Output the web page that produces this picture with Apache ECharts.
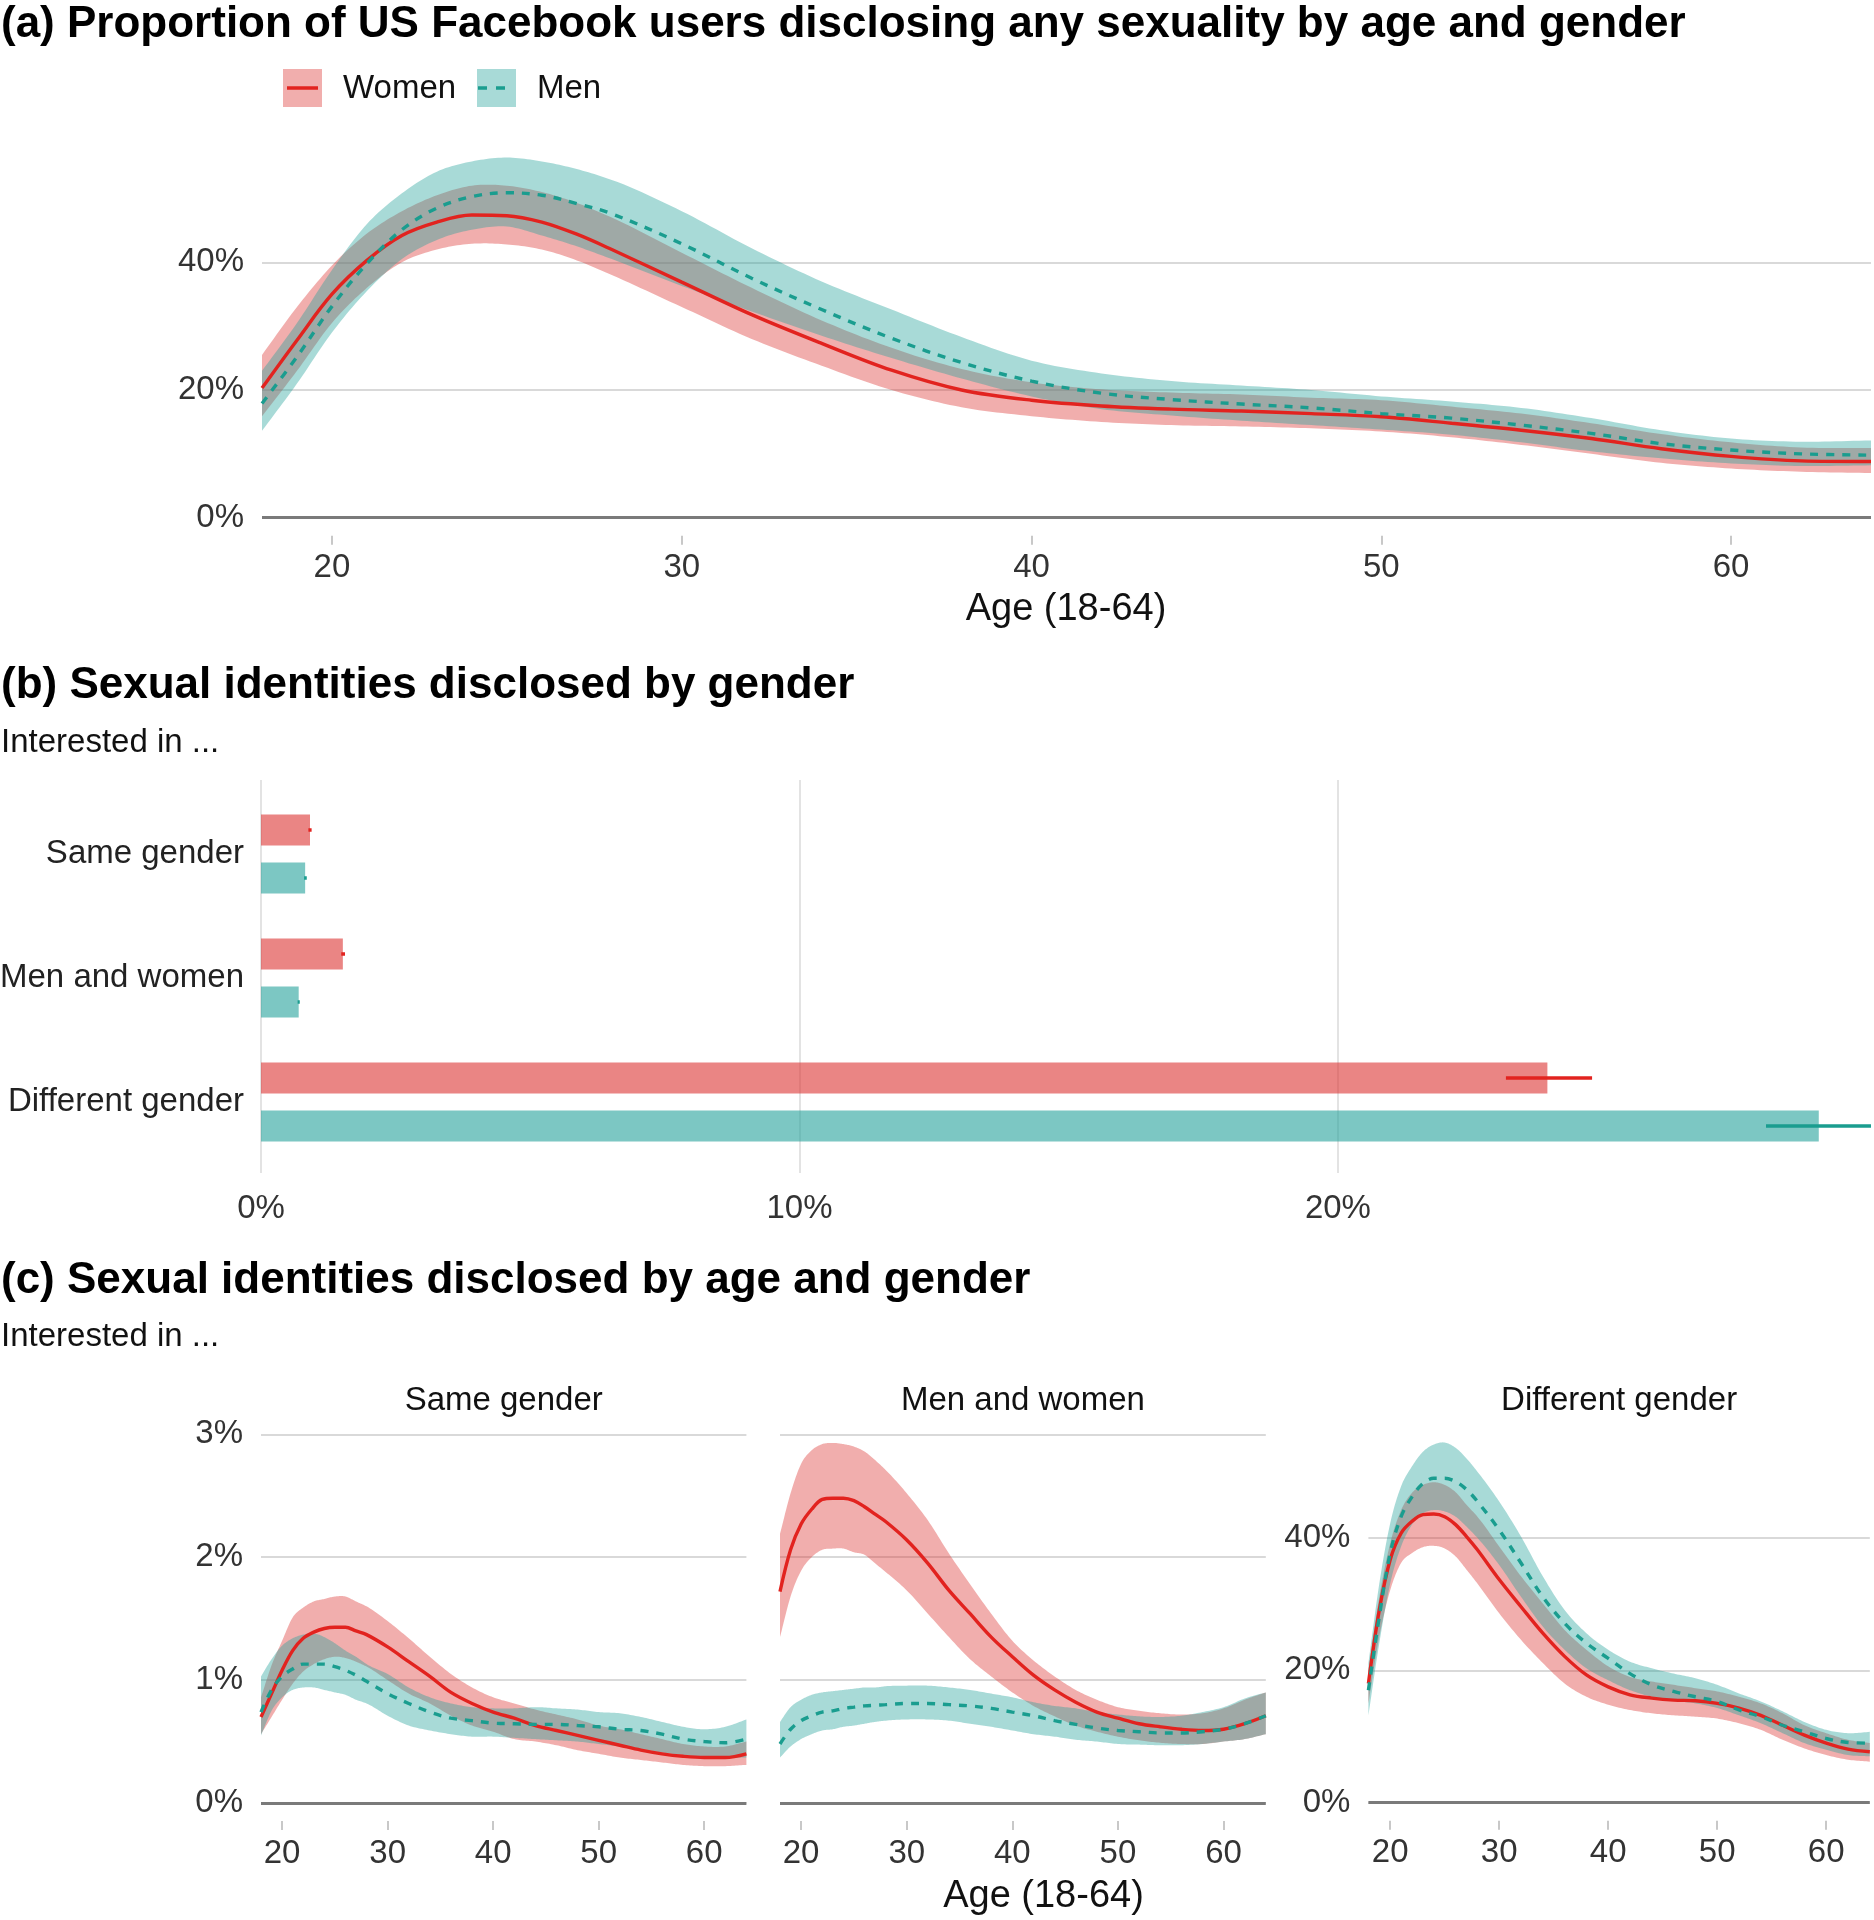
<!DOCTYPE html>
<html><head><meta charset="utf-8">
<script src="https://cdn.jsdelivr.net/npm/echarts@6/dist/echarts.min.js"></script>
<style>html,body{margin:0;padding:0;background:#fff}#c{width:1874px;height:1920px}</style>
</head><body><div id="c"></div>
<script>
// ---------- DATA ----------
const ages = [18,19,20,21,22,23,24,25,26,27,28,30,32,34,36,38,40,42,44,46,48,50,52,54,56,58,60,62,64];
const ageTicks = [20,30,40,50,60];

// (a) any sexuality disclosed, % by age
const aWomen   = [20.3,27.8,35.0,40.3,44.2,46.3,47.4,47.3,46.3,44.4,42.0,36.9,31.8,27.3,23.1,20.0,18.4,17.5,17.0,16.7,16.3,15.8,14.8,13.7,12.4,10.8,9.6,8.9,8.8];
const aWomenLo = [15.9,23.0,30.5,36.0,40.0,42.0,42.9,42.8,42.0,40.3,38.0,33.0,28.0,23.8,20.0,17.3,15.9,15.0,14.5,14.3,14.0,13.5,12.6,11.4,10.0,8.6,7.7,7.2,7.0];
const aWomenHi = [25.5,33.0,39.5,44.5,48.0,50.5,52.0,52.0,51.0,49.3,47.0,41.5,36.0,30.9,26.6,23.3,21.2,20.1,19.6,19.3,18.8,18.4,17.4,16.3,14.8,13.1,11.8,11.0,10.9];
const aMen     = [17.9,25.2,33.1,39.8,45.1,48.5,50.3,50.9,50.5,49.2,47.6,42.9,37.5,32.6,28.1,24.3,21.4,19.5,18.5,17.8,17.2,16.3,15.6,14.5,13.2,11.6,10.6,10.0,9.8];
const aMenLo   = [13.6,21.0,29.0,35.5,40.5,43.5,45.1,45.6,44.2,42.5,40.5,36.3,32.3,28.5,25.0,21.8,19.0,17.0,16.0,15.2,14.5,13.8,13.0,11.8,10.4,9.3,8.5,8.1,8.2];
const aMenHi   = [23.0,30.5,38.8,46.0,50.8,54.2,55.8,56.4,55.8,54.6,52.9,48.0,42.2,37.0,32.6,28.3,24.6,22.6,21.4,20.7,20.0,19.0,18.2,17.2,15.6,13.7,12.4,11.9,12.1];

// (b) identities disclosed by gender, %
const bCategories = ['Same gender','Men and women','Different gender'];
const bWomen   = [0.91,1.52,23.89];
const bWomenLo = [0.88,1.49,23.12];
const bWomenHi = [0.94,1.56,24.72];
const bMen     = [0.82,0.70,28.93];
const bMenLo   = [0.80,0.68,27.95];
const bMenHi   = [0.85,0.72,29.95];

// (c) identities by age and gender, %
const cFacets = ['Same gender','Men and women','Different gender'];
const c1Women   = [0.70,0.89,1.08,1.24,1.34,1.39,1.42,1.43,1.43,1.40,1.37,1.27,1.15,1.03,0.90,0.81,0.74,0.69,0.63,0.59,0.55,0.51,0.47,0.43,0.40,0.38,0.37,0.37,0.40];
const c1WomenLo = [0.56,0.70,0.84,0.97,1.07,1.13,1.17,1.19,1.18,1.15,1.11,1.00,0.89,0.81,0.71,0.63,0.58,0.52,0.50,0.47,0.43,0.40,0.37,0.35,0.33,0.31,0.30,0.30,0.31];
const c1WomenHi = [0.86,1.12,1.32,1.51,1.59,1.64,1.66,1.68,1.68,1.64,1.60,1.48,1.34,1.19,1.05,0.94,0.86,0.81,0.76,0.72,0.68,0.63,0.60,0.56,0.52,0.48,0.46,0.46,0.50];
const c1Men     = [0.74,0.92,1.03,1.09,1.13,1.13,1.13,1.11,1.08,1.04,0.99,0.89,0.81,0.74,0.69,0.67,0.65,0.645,0.64,0.64,0.63,0.62,0.60,0.59,0.56,0.52,0.50,0.49,0.52];
const c1MenLo   = [0.55,0.75,0.86,0.92,0.94,0.94,0.92,0.90,0.88,0.84,0.81,0.71,0.63,0.59,0.56,0.54,0.54,0.53,0.52,0.51,0.50,0.48,0.46,0.44,0.41,0.39,0.37,0.37,0.37];
const c1MenHi   = [1.03,1.17,1.28,1.34,1.37,1.38,1.35,1.30,1.24,1.19,1.13,1.05,0.94,0.86,0.81,0.78,0.77,0.77,0.78,0.77,0.76,0.74,0.73,0.70,0.66,0.62,0.60,0.62,0.68];

const c2Women   = [1.72,2.06,2.27,2.39,2.47,2.48,2.48,2.46,2.41,2.35,2.29,2.14,1.95,1.73,1.54,1.35,1.19,1.04,0.92,0.82,0.74,0.69,0.645,0.62,0.60,0.59,0.60,0.645,0.71];
const c2WomenLo = [1.35,1.68,1.89,2.00,2.06,2.07,2.07,2.04,2.02,1.95,1.88,1.73,1.54,1.35,1.17,1.03,0.90,0.79,0.705,0.63,0.58,0.54,0.51,0.49,0.48,0.48,0.50,0.52,0.56];
const c2WomenHi = [2.19,2.52,2.76,2.87,2.92,2.93,2.92,2.90,2.86,2.79,2.71,2.52,2.30,2.03,1.78,1.54,1.32,1.16,1.03,0.92,0.84,0.78,0.75,0.73,0.72,0.73,0.77,0.84,0.90];
const c2Men     = [0.48,0.60,0.67,0.71,0.74,0.75,0.77,0.78,0.79,0.795,0.80,0.81,0.81,0.80,0.79,0.77,0.74,0.71,0.67,0.64,0.61,0.59,0.58,0.57,0.57,0.58,0.60,0.645,0.71];
const c2MenLo   = [0.37,0.46,0.52,0.56,0.59,0.60,0.62,0.63,0.645,0.66,0.67,0.68,0.68,0.67,0.645,0.62,0.59,0.56,0.54,0.515,0.50,0.48,0.475,0.47,0.47,0.48,0.50,0.52,0.56];
const c2MenHi   = [0.66,0.78,0.84,0.88,0.90,0.91,0.92,0.93,0.94,0.94,0.95,0.955,0.955,0.94,0.92,0.89,0.86,0.82,0.79,0.77,0.74,0.72,0.705,0.70,0.71,0.74,0.78,0.85,0.90];

const c3Women   = [18.0,29.1,36.7,40.7,42.5,43.5,43.6,43.2,42.0,40.2,38.2,33.7,29.6,25.6,22.1,19.3,17.5,16.3,15.8,15.5,15.4,15.0,14.3,13.2,11.7,10.2,9.0,8.1,7.7];
const c3WomenLo = [15.0,25.1,32.1,36.2,37.7,38.6,38.8,38.4,37.2,35.2,33.1,28.6,24.6,21.1,18.0,16.0,14.8,14.0,13.5,13.2,13.0,12.7,12.0,11.0,9.5,8.2,7.2,6.5,6.2];
const c3WomenHi = [20.1,31.1,39.2,44.2,46.8,48.0,48.4,48.0,46.9,45.0,43.2,38.7,34.2,30.1,26.1,23.1,20.6,19.0,18.3,17.8,17.3,16.8,16.0,15.0,13.5,11.7,10.5,9.5,9.0];
const c3Men     = [17.0,28.1,37.7,43.2,46.2,48.2,49.0,49.0,48.5,47.3,45.5,41.2,36.2,31.1,27.1,24.1,21.8,19.5,17.8,16.8,16.0,15.3,14.0,13.0,11.7,10.7,9.7,9.1,9.0];
const c3MenLo   = [13.2,24.1,33.1,38.7,42.0,43.7,44.2,44.0,43.2,41.7,40.0,35.9,31.1,26.6,23.1,20.3,18.5,17.0,16.0,15.4,15.0,14.3,13.2,12.0,10.5,9.0,8.0,7.2,7.0];
const c3MenHi   = [21.1,33.1,42.2,47.8,50.8,53.0,54.1,54.4,53.6,52.0,50.0,45.5,40.2,34.2,29.1,25.6,23.1,21.3,20.3,19.5,18.8,17.8,16.5,15.3,13.8,12.2,11.0,10.5,10.7];

// ---------- STYLE ----------
const FONT = '"Liberation Sans", Arial, Helvetica, sans-serif';
const FS = 33;
const W_FILL = 'rgba(220,52,50,0.4)', M_FILL = 'rgba(37,162,155,0.4)';
const W_BAR = 'rgba(220,52,50,0.6)', M_BAR = 'rgba(37,162,155,0.6)';
const W_LINE = '#E2231F', M_LINE = '#1A9D8F';
const GRID_C = '#d9d9d9', ZERO_C = '#7a7a7a', TXT = '#333333';
const SM = 0.35;

function pairs(v){ return ages.map((a,i)=>[a, v[i]]); }

// cubic Hermite interpolation in pixel space (rendering only), x-monotone
function smoothPts(pts, seg){
  const n = pts.length, x = pts.map(p=>p[0]), y = pts.map(p=>p[1]);
  const d = [], m = new Array(n);
  for (let i = 0; i < n-1; i++) d[i] = (y[i+1]-y[i])/(x[i+1]-x[i]);
  m[0] = d[0]; m[n-1] = d[n-2];
  for (let i = 1; i < n-1; i++) {
    const h0 = x[i]-x[i-1], h1 = x[i+1]-x[i];
    m[i] = (d[i-1]*h1 + d[i]*h0)/(h0+h1);
  }
  const out = [];
  for (let i = 0; i < n-1; i++) {
    const h = x[i+1]-x[i];
    for (let t = 0; t < seg; t++) {
      const s = t/seg, s2 = s*s, s3 = s2*s;
      const yy = (2*s3-3*s2+1)*y[i] + (s3-2*s2+s)*h*m[i] + (-2*s3+3*s2)*y[i+1] + (s3-s2)*h*m[i+1];
      out.push([x[i] + s*h, yy]);
    }
  }
  out.push([x[n-1], y[n-1]]);
  return out;
}

function band(g, lo, hi, fill){
  return {type:'custom', xAxisIndex:g, yAxisIndex:g,
    data: ages.map((a,i)=>[a, lo[i], hi[i]]),
    encode:{x:0, y:[1,2]}, clip:true, z:2, silent:true, animation:false,
    renderItem:(p, api)=>{
      if (p.dataIndexInside !== 0) return {type:'group', children:[]};
      const n = p.dataInsideLength, up = [], dn = [];
      for (let i = 0; i < n; i++) {
        up.push(api.coord([api.value(0,i), api.value(2,i)]));
        dn.push(api.coord([api.value(0,i), api.value(1,i)]));
      }
      const pts = smoothPts(up, 12).concat(smoothPts(dn, 12).reverse());
      return {type:'polygon', shape:{points:pts}, style:{fill, stroke:null}};
    }};
}
function curve(g, v, color, dashed, zero){
  const s = {type:'line', xAxisIndex:g, yAxisIndex:g, data:pairs(v), smooth:SM, symbol:'none',
    lineStyle:{color, width:3.4, type: dashed ? [8,8] : 'solid'}, silent:true, z:4, animation:false, clip:false};
  if (zero) s.markLine = {silent:true, symbol:'none', label:{show:false}, animation:false,
    lineStyle:{color:ZERO_C, width:3, type:'solid'}, data:[{yAxis:0}]};
  return s;
}
function ageAxis(g){
  return {type:'value', gridIndex:g, min:18, max:64, offset:18,
    axisLine:{show:false, onZero:false},
    axisTick:{show:true, length:9, lineStyle:{color:'#c8c8c8', width:2}, customValues:ageTicks},
    axisLabel:{customValues:ageTicks, fontSize:FS, fontFamily:FONT, color:TXT, margin:16},
    splitLine:{show:false}};
}
function pctAxis(g, max, interval, showLabels, labelMax){
  return {type:'value', gridIndex:g, min:0, max, interval,
    axisLine:{show:false}, axisTick:{show:false},
    axisLabel:{show:showLabels, fontSize:FS, fontFamily:FONT, color:TXT, margin:18, showMaxLabel:false,
      formatter: v => (Math.abs(v/interval - Math.round(v/interval)) < 1e-6 && v <= labelMax ? v + '%' : '')},
    splitLine:{show:true, showMaxLine:false, lineStyle:{color:GRID_C, width:2}}};
}
function errBar(lo, hi, color, off){
  return {type:'custom', xAxisIndex:1, yAxisIndex:1, data: lo.map((l,i)=>[l, hi[i], i]),
    encode:{x:[0,1], y:2}, clip:true, z:6, silent:true, animation:false,
    renderItem:(p, api)=>{
      const a = api.coord([api.value(0), api.value(2)]);
      const b = api.coord([api.value(1), api.value(2)]);
      return {type:'line', shape:{x1:a[0], y1:a[1]+off, x2:b[0], y2:b[1]+off},
              style:{stroke:color, lineWidth:3.5}};
    }};
}
function T(x, y, text, size, o){
  o = o || {};
  return {type:'text', x, y, silent:true, style:{text, fill:o.color||'#000',
    font:(o.bold?'bold ':'') + size + 'px ' + FONT, fontSize:size, fontWeight:o.bold?'bold':'normal', fontFamily:FONT,
    align:o.align||'left', verticalAlign:'middle', textAlign:o.align||'left', textVerticalAlign:'middle'}};
}

// ---------- LAYOUT ----------
const G = o => Object.assign({containLabel:false, outerBoundsMode:'none'}, o);
const grids = [
  G({left:262, top:134.6, width:1609, height:383.1}),   // 0: (a)
  G({left:261, top:792, width:1610, height:372}),        // 1: (b) bars
  G({left:261, top:780, width:1610, height:393}),        // 2: (b) gridlines
  G({left:261, top:1422, width:485.4, height:381}),      // 3: (c) same
  G({left:780, top:1422, width:485.8, height:381}),      // 4: (c) men and women
  G({left:1368.4, top:1422, width:501.4, height:380.7})  // 5: (c) different
];

const xAxes = [
  ageAxis(0),
  {type:'value', gridIndex:1, min:0, max:29.9, show:false},
  {type:'value', gridIndex:2, min:0, max:29.9, interval:10,
    axisLine:{show:false}, axisTick:{show:false},
    axisLabel:{fontSize:FS, fontFamily:FONT, color:TXT, margin:19,
      formatter: v => (v % 10 === 0 ? v + '%' : '')},
    splitLine:{show:true, showMaxLine:false, lineStyle:{color:'#dcdcdc', width:1.6}}},
  ageAxis(3), ageAxis(4), ageAxis(5)
];
const yAxes = [
  pctAxis(0, 60, 20, true, 40),
  {type:'category', gridIndex:1, data:bCategories, inverse:true,
    axisLine:{show:false}, axisTick:{show:false}, splitLine:{show:false},
    axisLabel:{fontSize:FS, fontFamily:FONT, color:'#222', margin:17}},
  {type:'value', gridIndex:2, min:0, max:1, show:false},
  pctAxis(3, 3.1, 1, true, 3),
  pctAxis(4, 3.1, 1, false, 3),
  pctAxis(5, 57.5, 20, true, 40)
];

const series = [];
// (a)
series.push(band(0, aWomenLo, aWomenHi, W_FILL), band(0, aMenLo, aMenHi, M_FILL));
series.push(curve(0, aWomen, W_LINE, false, true), curve(0, aMen, M_LINE, true));
// (b)
series.push({type:'bar', xAxisIndex:1, yAxisIndex:1, data:bWomen, barWidth:31, barGap:'55%',
  itemStyle:{color:W_BAR}, silent:true, z:3, animation:false});
series.push({type:'bar', xAxisIndex:1, yAxisIndex:1, data:bMen, barWidth:31, barGap:'55%',
  itemStyle:{color:M_BAR}, silent:true, z:3, animation:false});
series.push(errBar(bWomenLo, bWomenHi, W_LINE, -24), errBar(bMenLo, bMenHi, M_LINE, 24));
// (c)
const cData = [
  [c1WomenLo,c1WomenHi,c1MenLo,c1MenHi,c1Women,c1Men],
  [c2WomenLo,c2WomenHi,c2MenLo,c2MenHi,c2Women,c2Men],
  [c3WomenLo,c3WomenHi,c3MenLo,c3MenHi,c3Women,c3Men]
];
cData.forEach((d, k)=>{
  const g = 3 + k;
  series.push(band(g, d[0], d[1], W_FILL), band(g, d[2], d[3], M_FILL));
  series.push(curve(g, d[4], W_LINE, false, true), curve(g, d[5], M_LINE, true));
});

const graphic = [
  T(1, 24.5, '(a) Proportion of US Facebook users disclosing any sexuality by age and gender', 44, {bold:true}),
  {type:'rect', silent:true, shape:{x:283, y:69, width:39, height:38}, style:{fill:W_FILL}},
  {type:'line', silent:true, shape:{x1:287, y1:88, x2:318, y2:88}, style:{stroke:W_LINE, lineWidth:3.5}},
  {type:'rect', silent:true, shape:{x:477, y:69, width:39, height:38}, style:{fill:M_FILL}},
  {type:'line', silent:true, shape:{x1:478, y1:88, x2:514, y2:88}, style:{stroke:M_LINE, lineWidth:3.5, lineDash:[9,9]}},
  T(343, 89, 'Women', FS, {color:'#111'}),
  T(537, 89, 'Men', FS, {color:'#111'}),
  T(1066, 610, 'Age (18-64)', 38, {align:'center', color:'#111'}),
  T(1, 686, '(b) Sexual identities disclosed by gender', 44, {bold:true}),
  T(1, 743, 'Interested in ...', FS, {color:'#111'}),
  T(1, 1281, '(c) Sexual identities disclosed by age and gender', 44, {bold:true}),
  T(1, 1337, 'Interested in ...', FS, {color:'#111'}),
  T(503.7, 1401, cFacets[0], FS, {align:'center', color:'#111'}),
  T(1022.9, 1401, cFacets[1], FS, {align:'center', color:'#111'}),
  T(1619.1, 1401, cFacets[2], FS, {align:'center', color:'#111'}),
  T(1043.5, 1897, 'Age (18-64)', 38, {align:'center', color:'#111'})
];

const chart = echarts.init(document.getElementById('c'), null, {renderer:'canvas', width:1874, height:1920});
chart.setOption({
  backgroundColor:'#ffffff',
  animation:false,
  textStyle:{fontFamily:FONT},
  grid:grids, xAxis:xAxes, yAxis:yAxes, series, graphic
});
</script></body></html>
